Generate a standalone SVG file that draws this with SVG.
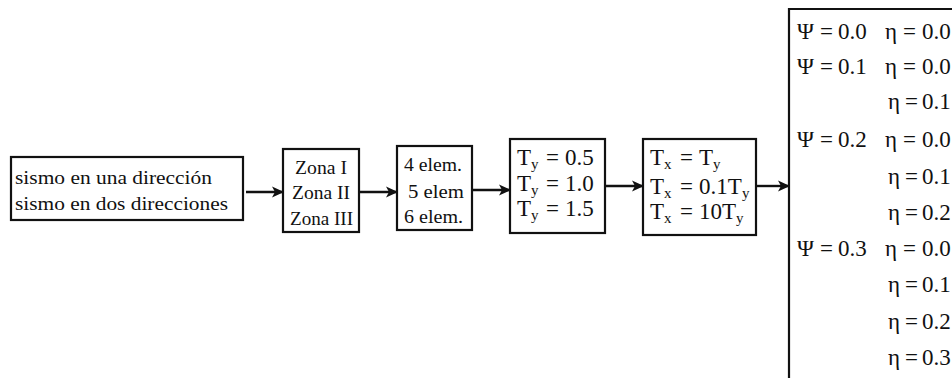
<svg xmlns="http://www.w3.org/2000/svg" width="952" height="378" viewBox="0 0 952 378">
<defs>
<style>
.box{fill:#fff;stroke:#111;stroke-width:2.2}
.t{font-family:"Liberation Serif","Times New Roman",serif;fill:#111}
.s{font-size:19px}
.m{font-size:19px}
.l{font-size:23px}
.r{font-size:23px}
.sub{font-size:15px}
.edge{stroke:#111;stroke-width:2.4;fill:none;marker-end:url(#ah)}
</style>
<marker id="ah" viewBox="0 0 12 12" refX="11" refY="6" markerWidth="12" markerHeight="12" orient="auto" markerUnits="userSpaceOnUse">
<path d="M0,0.5 L12,6 L0,11.5 L3,6 Z" fill="#111"/>
</marker>
</defs>
<rect width="952" height="378" fill="#fff"/>
<g id="n1">
<rect class="box" x="11" y="157" width="232" height="63"/>
<text class="t s" x="15" y="184" textLength="197" lengthAdjust="spacingAndGlyphs">sismo en una dirección</text>
<text class="t s" x="15" y="210" textLength="213" lengthAdjust="spacingAndGlyphs">sismo en dos direcciones</text>
</g>
<g id="n2">
<rect class="box" x="283" y="149" width="76" height="83"/>
<text class="t m" x="295" y="174" textLength="52" lengthAdjust="spacingAndGlyphs">Zona I</text>
<text class="t m" x="292" y="199" textLength="58" lengthAdjust="spacingAndGlyphs">Zona II</text>
<text class="t m" x="290" y="225" textLength="63" lengthAdjust="spacingAndGlyphs">Zona III</text>
</g>
<g id="n3">
<rect class="box" x="397" y="146" width="75" height="84"/>
<text class="t m" x="404" y="171" textLength="58" lengthAdjust="spacingAndGlyphs">4 elem.</text>
<text class="t m" x="408" y="198" textLength="56" lengthAdjust="spacingAndGlyphs">5 elem</text>
<text class="t m" x="404" y="223" textLength="59" lengthAdjust="spacingAndGlyphs">6 elem.</text>
</g>
<g id="n4">
<rect class="box" x="510" y="139" width="95" height="94"/>
<text class="t l" y="165"><tspan x="517">T</tspan><tspan class="sub" x="531" dy="4">y</tspan><tspan x="546" dy="-4">=</tspan><tspan x="565">0.5</tspan></text>
<text class="t l" y="191"><tspan x="517">T</tspan><tspan class="sub" x="531" dy="4">y</tspan><tspan x="546" dy="-4">=</tspan><tspan x="565">1.0</tspan></text>
<text class="t l" y="216"><tspan x="517">T</tspan><tspan class="sub" x="531" dy="4">y</tspan><tspan x="546" dy="-4">=</tspan><tspan x="565">1.5</tspan></text>
</g>
<g id="n5">
<rect class="box" x="643" y="139" width="113" height="96"/>
<text class="t l" y="165"><tspan x="650">T</tspan><tspan class="sub" x="664" dy="4">x</tspan><tspan x="680" dy="-4">=</tspan><tspan x="699">T</tspan><tspan class="sub" x="713" dy="4">y</tspan></text>
<text class="t l" y="194"><tspan x="650">T</tspan><tspan class="sub" x="664" dy="4">x</tspan><tspan x="680" dy="-4">=</tspan><tspan x="699">0.1T</tspan><tspan class="sub" x="742" dy="4">y</tspan></text>
<text class="t l" y="219"><tspan x="650">T</tspan><tspan class="sub" x="664" dy="4">x</tspan><tspan x="680" dy="-4">=</tspan><tspan x="699">10T</tspan><tspan class="sub" x="736" dy="4">y</tspan></text>
</g>
<g id="n6">
<path d="M789,378 V9 H952" fill="none" stroke="#111" stroke-width="2.2"/>
<text class="t r" y="39"><tspan x="797">Ψ</tspan><tspan x="820">=</tspan><tspan x="838">0.0</tspan></text>
<text class="t r" y="74"><tspan x="797">Ψ</tspan><tspan x="820">=</tspan><tspan x="838">0.1</tspan></text>
<text class="t r" y="147"><tspan x="797">Ψ</tspan><tspan x="820">=</tspan><tspan x="838">0.2</tspan></text>
<text class="t r" y="256"><tspan x="797">Ψ</tspan><tspan x="820">=</tspan><tspan x="838">0.3</tspan></text>
<text class="t r" y="39"><tspan x="885">η</tspan><tspan x="903">=</tspan><tspan x="922">0.0</tspan></text>
<text class="t r" y="74"><tspan x="885">η</tspan><tspan x="903">=</tspan><tspan x="922">0.0</tspan></text>
<text class="t r" y="109"><tspan x="888">η</tspan><tspan x="905">=</tspan><tspan x="922">0.1</tspan></text>
<text class="t r" y="147"><tspan x="885">η</tspan><tspan x="903">=</tspan><tspan x="922">0.0</tspan></text>
<text class="t r" y="184"><tspan x="888">η</tspan><tspan x="905">=</tspan><tspan x="922">0.1</tspan></text>
<text class="t r" y="220"><tspan x="888">η</tspan><tspan x="905">=</tspan><tspan x="922">0.2</tspan></text>
<text class="t r" y="256"><tspan x="885">η</tspan><tspan x="903">=</tspan><tspan x="922">0.0</tspan></text>
<text class="t r" y="292"><tspan x="888">η</tspan><tspan x="905">=</tspan><tspan x="922">0.1</tspan></text>
<text class="t r" y="329"><tspan x="888">η</tspan><tspan x="905">=</tspan><tspan x="922">0.2</tspan></text>
<text class="t r" y="365"><tspan x="888">η</tspan><tspan x="905">=</tspan><tspan x="922">0.3</tspan></text>
</g>
<g id="connectors">
<line class="edge" x1="246" y1="192" x2="283" y2="192"/>
<line class="edge" x1="360" y1="192" x2="397" y2="192"/>
<line class="edge" x1="473" y1="190" x2="510" y2="190"/>
<line class="edge" x1="606" y1="186" x2="643" y2="186"/>
<line class="edge" x1="757" y1="186" x2="789" y2="186"/>
</g>
</svg>
